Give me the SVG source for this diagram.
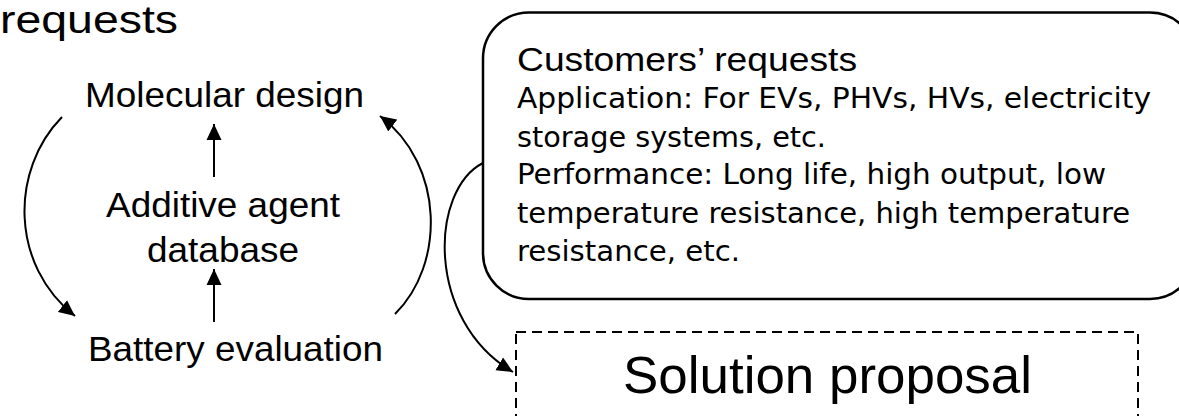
<svg xmlns="http://www.w3.org/2000/svg" width="1179" height="416" viewBox="0 0 1179 416">
  <style>
    .sans { font-family: "Liberation Sans", Arial, sans-serif; fill: #000; }
    .body { font-family: "Liberation Sans Narrow", "DejaVu Sans Condensed", "Liberation Sans", sans-serif; fill: #000; font-size: 29px; }
    .conn { fill: none; stroke: #000; stroke-width: 2; }
  </style>
  <defs>
    <marker id="arrow" markerUnits="userSpaceOnUse" markerWidth="17" markerHeight="16" refX="16" refY="8" orient="auto">
      <path d="M0,0.5 L16,8 L0,15.5 z" fill="#000"/>
    </marker>
  </defs>

  <rect width="1179" height="416" fill="#fff"/>

  <!-- heading fragment -->
  <text class="sans" x="0" y="33" font-size="38" textLength="178" lengthAdjust="spacingAndGlyphs">requests</text>

  <!-- cycle nodes -->
  <g id="molecular-design">
    <text class="sans" x="85" y="107" font-size="35" textLength="279" lengthAdjust="spacingAndGlyphs">Molecular design</text>
  </g>
  <g id="additive-database">
    <text class="sans" x="106" y="217" font-size="35" textLength="234" lengthAdjust="spacingAndGlyphs">Additive agent</text>
    <text class="sans" x="147" y="262" font-size="35" textLength="152" lengthAdjust="spacingAndGlyphs">database</text>
  </g>
  <g id="battery-evaluation">
    <text class="sans" x="88" y="361" font-size="35" textLength="295" lengthAdjust="spacingAndGlyphs">Battery evaluation</text>
  </g>

  <!-- connectors -->
  <g id="connectors">
    <path class="conn" d="M214,177 L214,124" marker-end="url(#arrow)"/>
    <path class="conn" d="M214,322 L214,269" marker-end="url(#arrow)"/>
    <path class="conn" d="M62,117 C10,170 10,265 75,316" marker-end="url(#arrow)"/>
    <path class="conn" d="M395,314 C445,265 445,165 380,116" marker-end="url(#arrow)"/>
    <path class="conn" d="M483,163 C430,190 425,320 513,372" marker-end="url(#arrow)"/>
  </g>

  <!-- customer requests callout -->
  <g id="customers-requests">
    <rect x="483" y="12.5" width="713" height="286.5" rx="46" ry="46" fill="#fff" stroke="#000" stroke-width="2.5"/>
    <text class="sans" x="517" y="71" font-size="33" textLength="340" lengthAdjust="spacingAndGlyphs">Customers’ requests</text>
    <text class="body" x="517" y="108" textLength="634" lengthAdjust="spacingAndGlyphs">Application: For EVs, PHVs, HVs, electricity</text>
    <text class="body" x="517" y="147" textLength="309" lengthAdjust="spacingAndGlyphs">storage systems, etc.</text>
    <text class="body" x="517" y="184" textLength="589" lengthAdjust="spacingAndGlyphs">Performance: Long life, high output, low</text>
    <text class="body" x="517" y="223" textLength="613" lengthAdjust="spacingAndGlyphs">temperature resistance, high temperature</text>
    <text class="body" x="517" y="261" textLength="223" lengthAdjust="spacingAndGlyphs">resistance, etc.</text>
  </g>

  <!-- solution proposal -->
  <g id="solution-proposal">
    <rect x="516" y="332" width="622" height="120" fill="none" stroke="#000" stroke-width="2" stroke-dasharray="10 6"/>
    <text class="sans" x="623" y="393" font-size="52" textLength="409" lengthAdjust="spacingAndGlyphs">Solution proposal</text>
  </g>
</svg>
